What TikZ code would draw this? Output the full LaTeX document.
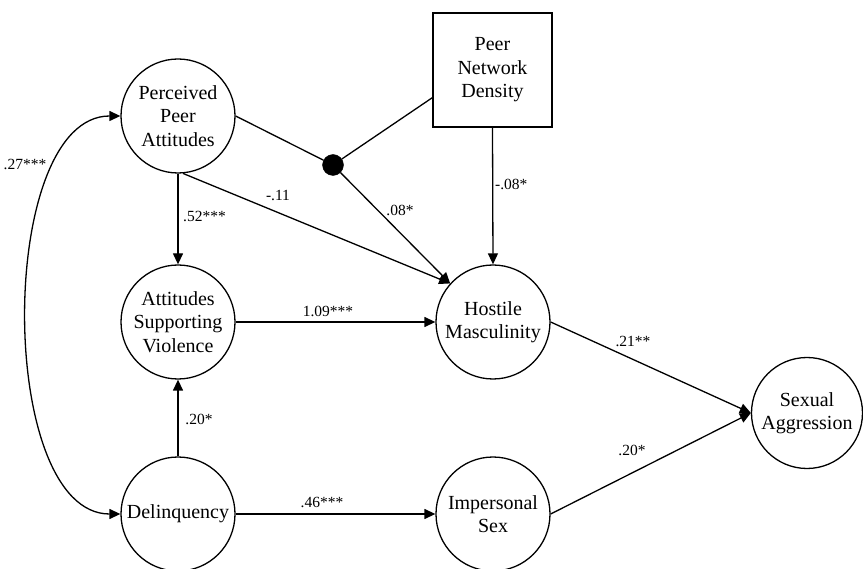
\documentclass[tikz,border=0pt]{standalone}
\usepackage{fontspec}
\setmainfont{Liberation Serif}
\usetikzlibrary{arrows.meta,calc}
\begin{document}
\begin{tikzpicture}[x=1pt,y=-1pt,
  var/.style={draw,circle,minimum size=114pt,inner sep=0pt,line width=1.3pt,align=center,font=\fontsize{20}{23.5}\selectfont},
  boxnode/.style={draw,rectangle,minimum width=119pt,minimum height=114pt,inner sep=0pt,line width=1.3pt,align=center,font=\fontsize{20}{23.5}\selectfont},
  junction/.style={circle,fill=black,draw=black,minimum size=21pt,inner sep=0pt},
  conn/.style={line width=1.3pt},
  arr/.style={conn,-{Triangle[length=11pt,width=10pt]}},
  dbl/.style={conn,{Triangle[length=11pt,width=10pt]}-{Triangle[length=11pt,width=10pt]}},
  lbl/.style={font=\fontsize{15.5}{18}\selectfont,inner sep=0pt}
]
\useasboundingbox (0,0) rectangle (863,569);
\fill[white] (0,0) rectangle (863,569);

\node[var] (ppa) at (178,116) {Perceived\\Peer\\Attitudes};
\node[var] (asv) at (178,322) {Attitudes\\Supporting\\Violence};
\node[var] (del) at (178,514) {Delinquency};
\node[var] (hm) at (493,322) {Hostile\\Masculinity};
\node[var] (is) at (493,514) {Impersonal\\Sex};
\node[var,minimum size=111pt] (sa) at (807,413) {Sexual\\Aggression};
\node[boxnode] (pnd) at (492.5,70) {Peer\\Network\\Density};
\node[junction] (j) at (333,165) {};

\draw[arr] (ppa.south) -- (asv.north);
\draw[arr] (ppa.-85) -- (hm.138);
\draw[conn] (ppa.east) -- (j);
\draw[conn] ($(pnd.north west)!0.74!(pnd.south west)$) -- (j);
\draw[arr] (j) -- (hm.138);
\draw[arr] (pnd.south) -- (hm.north);
\draw[arr] (asv.east) -- (hm.west);
\draw[arr] (del.north) -- (asv.south);
\draw[arr] (del.east) -- (is.west);
\draw[arr] (hm.east) -- (sa.west);
\draw[arr] (is.east) -- (sa.west);
\draw[dbl] (ppa.west) to[out=180,in=180,looseness=0.8] (del.west);

\node[lbl,anchor=west] (l1) at (183,216) {.52***};
\node[lbl] (l2) at (278,195) {-.11};
\node[lbl] (l3) at (400,210) {.08*};
\node[lbl] (l4) at (25,164) {.27***};
\node[lbl,anchor=west] (l5) at (495,184) {-.08*};
\node[lbl] (l6) at (328,311) {1.09***};
\node[lbl] (l7) at (322,502) {.46***};
\node[lbl] (l8) at (199,419) {.20*};
\node[lbl] (l9) at (633,341) {.21**};
\node[lbl] (l10) at (632,450) {.20*};
\end{tikzpicture}
\end{document}
